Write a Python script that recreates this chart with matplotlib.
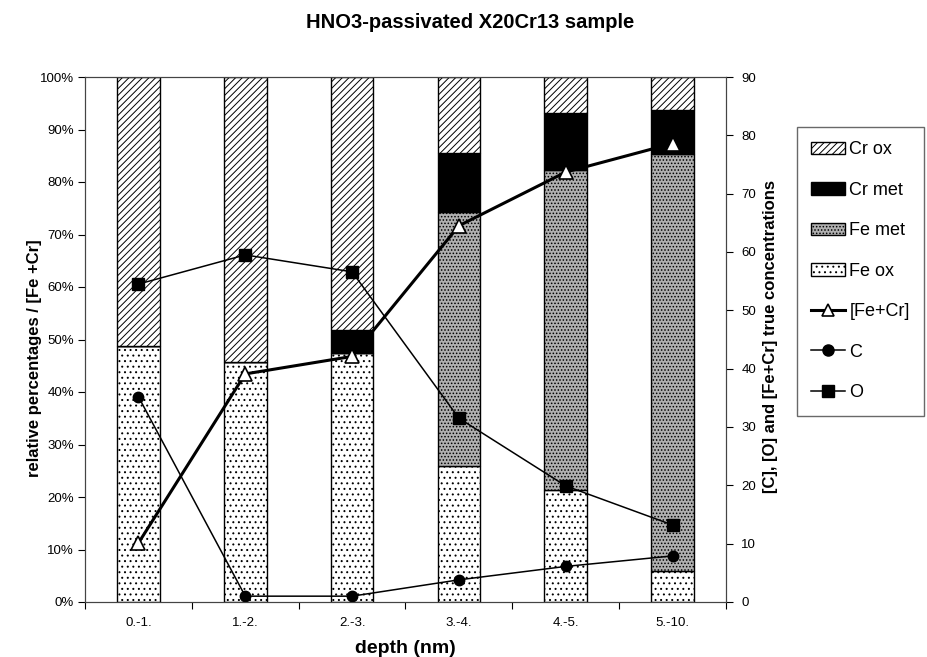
import matplotlib
matplotlib.use("Agg")
import matplotlib.pyplot as plt
import numpy as np

plt.rcParams['font.family'] = ['Liberation Sans', 'DejaVu Sans']
plt.rcParams['hatch.linewidth'] = 0.7

categories = ["0.-1.", "1.-2.", "2.-3.", "3.-4.", "4.-5.", "5.-10."]
fe_ox = [48.8, 45.8, 47.4, 25.9, 21.3, 5.9]
fe_met = [0.0, 0.0, 0.0, 48.4, 61.0, 79.4]
cr_met = [0.0, 0.0, 4.4, 11.2, 10.8, 8.5]
cr_ox = [51.2, 54.2, 48.2, 14.5, 6.9, 6.2]

fe_cr = [10.1, 39.1, 42.1, 64.5, 73.7, 78.6]
c_conc = [35.2, 1.0, 1.0, 3.8, 6.1, 7.9]
o_conc = [54.5, 59.5, 56.6, 31.5, 19.9, 13.2]

left_ticks = [0, 10, 20, 30, 40, 50, 60, 70, 80, 90, 100]
right_ticks = [0, 10, 20, 30, 40, 50, 60, 70, 80, 90]

W, H = 928, 657
fig = plt.figure(figsize=(W / 100, H / 100), dpi=100)
ax = fig.add_axes([85 / W, 1 - 602 / H, (726 - 85) / W, (602 - 77) / H])
ax2 = ax.twinx()

x = np.arange(len(categories))
bw = 0.4
b1 = ax.bar(x, fe_ox, bw, color='white', edgecolor='black', hatch='...', linewidth=1.0, label='Fe ox')
bot = np.array(fe_ox)
b2 = ax.bar(x, fe_met, bw, bottom=bot, color='#b0b0b0', edgecolor='black', hatch='.....', linewidth=1.0, label='Fe met')
bot = bot + np.array(fe_met)
b3 = ax.bar(x, cr_met, bw, bottom=bot, color='black', edgecolor='black', hatch='////', linewidth=1.0, label='Cr met')
bot = bot + np.array(cr_met)
b4 = ax.bar(x, cr_ox, bw, bottom=bot, color='white', edgecolor='black', hatch='/////', linewidth=1.0, label='Cr ox')

ax.set_ylim(0, 100)
ax.set_xlim(-0.5, len(categories) - 0.5)
ax.set_yticks(left_ticks)
ax.set_yticklabels([f"{t}%" for t in left_ticks])
ax.set_xticks(x)
ax.set_xticklabels(categories)
ax.set_xticks(np.arange(len(categories) + 1) - 0.5, minor=True)
ax.tick_params(axis='x', which='major', length=0, pad=11, labelsize=9.5)
ax.tick_params(axis='x', which='minor', length=5, direction='out', width=0.8)
ax.tick_params(axis='y', length=5, direction='out', width=0.8, labelsize=9.5, pad=3)

l1, = ax2.plot(x, fe_cr, '-', color='black', lw=2.2, marker='^', markersize=10,
               markerfacecolor='white', markeredgecolor='black', markeredgewidth=1.2, label='[Fe+Cr]')
l2, = ax2.plot(x, c_conc, '-', color='black', lw=1.1, marker='o', markersize=7.5,
               markerfacecolor='black', label='C')
l3, = ax2.plot(x, o_conc, '-', color='black', lw=1.1, marker='s', markersize=8,
               markerfacecolor='black', label='O')
ax2.set_ylim(0, 90)
ax2.set_yticks(right_ticks)
ax2.tick_params(axis='y', length=5, direction='out', width=0.8, labelsize=9.5, pad=6)

for a in (ax, ax2):
    for s in a.spines.values():
        s.set_linewidth(0.8)
        s.set_color('#444444')

ax.set_ylabel('relative percentages / [Fe +Cr]', fontsize=12, fontweight='bold')
ax.yaxis.set_label_coords(-0.067, 0.465)
ax2.set_ylabel('[C], [O] and [Fe+Cr] true concentrations', fontsize=12, fontweight='bold')
ax2.yaxis.set_label_coords(1.058, 0.505)
ax.set_xlabel('depth (nm)', fontsize=14, fontweight='bold', labelpad=8)

fig.text(470 / W, 1 - 23 / H, 'HNO3-passivated X20Cr13 sample', ha='center', va='center',
         fontsize=14.5, fontweight='bold')

handles = [b4, b3, b2, b1, l1, l2, l3]
labels = ['Cr ox', 'Cr met', 'Fe met', 'Fe ox', '[Fe+Cr]', 'C', 'O']
leg = fig.legend(handles, labels, loc='upper left', bbox_to_anchor=(797 / W, 1 - 127 / H),
                 fontsize=13, frameon=True, fancybox=False, edgecolor='#444444',
                 labelspacing=1.3, handlelength=1.85, handletextpad=0.25, borderpad=0.8,
                 borderaxespad=0)
leg.get_frame().set_linewidth(1.0)
for h in leg.legend_handles[4:]:
    h.set_markersize(8)

fig.savefig('out.png', dpi=100)
